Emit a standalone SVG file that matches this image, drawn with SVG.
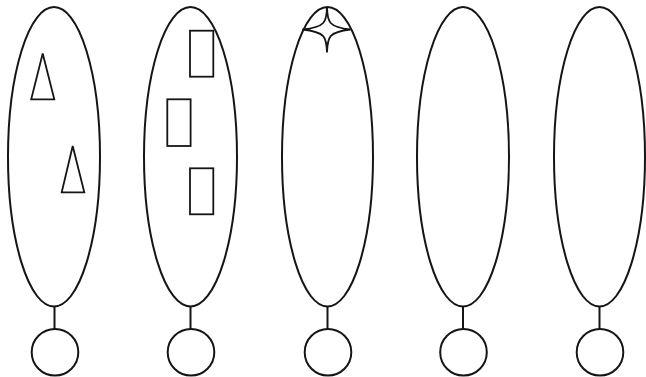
<svg xmlns="http://www.w3.org/2000/svg" width="646" height="377" viewBox="0 0 646 377">
<style>
.s{fill:none;stroke:#151515;stroke-width:2}
.t{fill:none;stroke:#151515;stroke-width:1.8}
</style>
<rect width="646" height="377" fill="#fff"/>
<g id="connectors">
<line class="s" x1="54.5" y1="306.5" x2="54.5" y2="329"/>
<line class="s" x1="190.5" y1="306.5" x2="190.5" y2="329"/>
<line class="s" x1="327.5" y1="306.5" x2="327.5" y2="329"/>
<line class="s" x1="463" y1="306.5" x2="463" y2="329"/>
<line class="s" x1="599.5" y1="306.5" x2="599.5" y2="329"/>
</g>
<g id="node1">
<ellipse class="s" cx="54" cy="156.8" rx="46" ry="149.7"/>
<polygon class="t" points="42.7,53.5 31.2,99.3 54.3,99.3"/>
<polygon class="t" points="72.7,146 61.7,192.3 84.3,192.3"/>
</g>
<g id="node2">
<ellipse class="s" cx="190.5" cy="156.8" rx="46.5" ry="149.7"/>
<rect class="t" x="190" y="30.7" width="23.3" height="46"/>
<rect class="t" x="167.3" y="99.3" width="23.3" height="46.7"/>
<rect class="t" x="190" y="168.3" width="23.3" height="46"/>
</g>
<g id="node3">
<ellipse class="s" cx="327.5" cy="156.8" rx="45.5" ry="149.7"/>
<path class="t" d="M327 7.5 C327.5 22 328.5 27 350.5 29.5 C328.5 32 327.5 37 327 52.5 C326.5 37 325.5 32 302.5 29.5 C325.5 27 326.5 22 327 7.5 Z"/>
</g>
<g id="node4">
<ellipse class="s" cx="463" cy="156.8" rx="46" ry="149.7"/>
</g>
<g id="node5">
<ellipse class="s" cx="599.5" cy="156.8" rx="45.5" ry="149.7"/>
</g>
<g id="circles">
<circle class="s" cx="55" cy="352.3" r="23.3"/>
<circle class="s" cx="191" cy="352.3" r="23.3"/>
<circle class="s" cx="328" cy="352.3" r="23.3"/>
<circle class="s" cx="463.5" cy="352.3" r="23.3"/>
<circle class="s" cx="600" cy="352.3" r="23.3"/>
</g>
</svg>
